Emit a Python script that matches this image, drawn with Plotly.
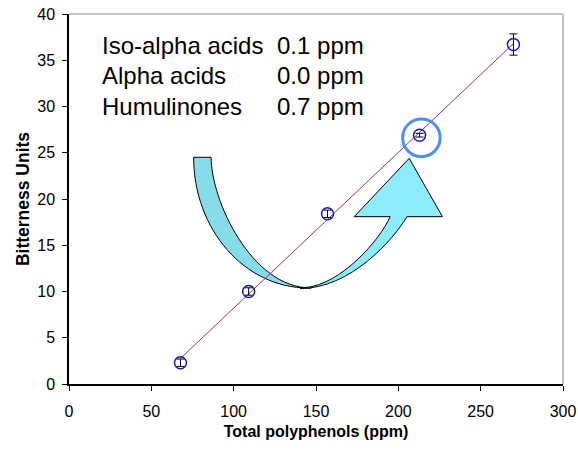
import numpy as np
import plotly.graph_objects as go

# ---- data ----
polyphenols = [67.7, 109.1, 157.0, 212.9, 269.9]
bitterness = [2.3, 10.0, 18.4, 26.9, 36.7]
bitterness_err = [0.4, 0.4, 0.4, 0.2, 1.15]

x_ticks = [0, 50, 100, 150, 200, 250, 300]
y_ticks = [0, 5, 10, 15, 20, 25, 30, 35, 40]

text_labels = ["Iso-alpha acids", "Alpha acids", "Humulinones"]
text_values = ["0.1 ppm", "0.0 ppm", "0.7 ppm"]

FONT = "Arial, Liberation Sans, sans-serif"

# linear trendline through the data
slope, intercept = np.polyfit(polyphenols, bitterness, 1)
trend_x = [min(polyphenols), max(polyphenols)]
trend_y = [slope * v + intercept for v in trend_x]

fig = go.Figure()
fig.add_trace(go.Scatter(
    x=trend_x, y=trend_y, mode="lines",
    line=dict(color="#993366", width=1), hoverinfo="skip", showlegend=False))
fig.add_trace(go.Scatter(
    x=polyphenols, y=bitterness, mode="markers",
    marker=dict(symbol="circle-open", size=12, color="#1a1aa6", line=dict(width=1.5, color="#1a1aa6")),
    error_y=dict(type="data", array=bitterness_err, color="black", thickness=1, width=4),
    showlegend=False))

shapes = []
# curved arrow (decoration) - left (back) band
shapes.append(dict(
    type="path", xref="x", yref="y", layer="below",
    path=("M 75.7,24.51 C 75.7,16.69 106.8,10.38 145.3,10.38 "
          "L 147.1,10.38 C 110.7,10.38 86.3,19.89 86.3,24.51 Z"),
    fillcolor="#87dcea", line=dict(color="black", width=1)))
# right band with arrow head
shapes.append(dict(
    type="path", xref="x", yref="y", layer="below",
    path=("M 140.4,10.32 C 170.8,10.32 196.9,15.57 205.2,18.09 "
          "L 226.8,18.09 L 206.6,24.40 L 173.2,18.09 L 195.0,18.09 "
          "C 189.0,15.57 164.7,10.70 143.5,10.43 Z"),
    fillcolor="#8decfc", line=dict(color="black", width=1)))
# highlight circle
shapes.append(dict(
    type="circle", xref="x", yref="y", layer="above",
    x0=202.6, x1=225.4, y0=24.58, y1=28.65,
    line=dict(color="#4f8ef5", width=3)))
# plot-area border (top & right)
shapes.append(dict(type="line", xref="paper", yref="paper", x0=0, x1=1, y0=1, y1=1,
                   line=dict(color="#8c8c8c", width=1)))
shapes.append(dict(type="line", xref="paper", yref="paper", x0=1, x1=1, y0=0, y1=1,
                   line=dict(color="#8c8c8c", width=1)))

annotations = []
line_y = [36.55, 33.35, 30.05]
for lab, val, yy in zip(text_labels, text_values, line_y):
    annotations.append(dict(x=19.1, y=yy, xref="x", yref="y", text=lab, showarrow=False,
                            xanchor="left", yanchor="middle",
                            font=dict(family=FONT, size=24, color="black")))
    annotations.append(dict(x=124.9, y=yy, xref="x", yref="y", text=val, showarrow=False,
                            xanchor="left", yanchor="middle",
                            font=dict(family=FONT, size=24, color="black")))

fig.update_layout(
    width=578, height=453,
    margin=dict(l=68.5, r=15, t=14, b=69),
    paper_bgcolor="white", plot_bgcolor="white",
    font=dict(family=FONT, color="black"),
    shapes=shapes, annotations=annotations,
    xaxis=dict(range=[0, 300], tickvals=x_ticks, showgrid=False, zeroline=False,
               automargin=False,
               showline=True, linecolor="black", linewidth=1.5,
               ticks="outside", ticklen=5, tickcolor="black",
               tickfont=dict(size=16, family=FONT), ticklabelstandoff=7,
               ticklabeloverflow="allow",
               title=dict(text="<b>Total polyphenols (ppm)</b>", font=dict(size=16, family=FONT),
                          standoff=7)),
    yaxis=dict(range=[0, 40], tickvals=y_ticks, showgrid=False, zeroline=False,
               automargin=False,
               showline=True, linecolor="black", linewidth=1.5,
               ticks="outside", ticklen=5, tickcolor="black",
               tickfont=dict(size=16, family=FONT), ticklabelstandoff=4,
               ticklabeloverflow="allow",
               title=dict(text="<b>Bitterness Units</b>", font=dict(size=17.5, family=FONT),
                          standoff=3)),
)

fig.write_html(
    "out.html",
    config={"displayModeBar": False},
    post_script="document.body.style.margin='0';document.body.style.overflow='hidden';",
)
